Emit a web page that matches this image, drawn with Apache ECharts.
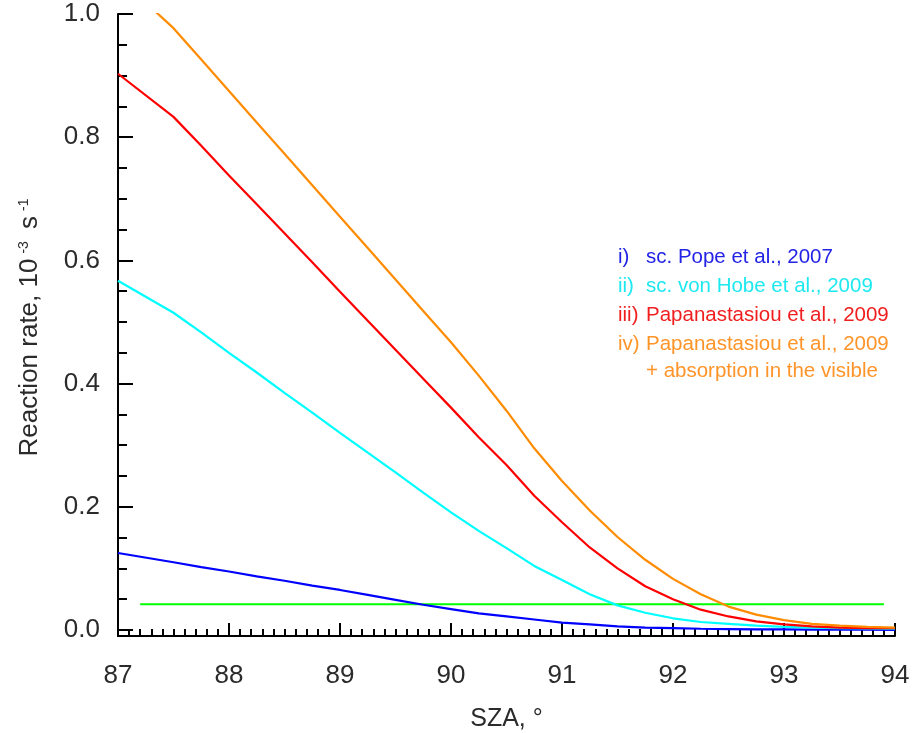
<!DOCTYPE html>
<html>
<head>
<meta charset="utf-8">
<script src="https://cdn.jsdelivr.net/npm/echarts@6/dist/echarts.min.js"></script>
<style>
  html, body { margin: 0; padding: 0; background: #fff; }
  #chart { width: 912px; height: 733px; }
</style>
</head>
<body>
<div id="chart"></div>
<script>
// solar zenith angle, degrees
const sza = [87, 87.5, 87.75, 88, 88.25, 88.5, 88.75, 89, 89.25, 89.5, 89.75, 90,
  90.25, 90.5, 90.75, 91, 91.25, 91.5, 91.75, 92, 92.25, 92.5, 92.75, 93,
  93.25, 93.5, 93.75, 94];

// reaction rates, 10^-3 s^-1
const popeRate = [0.125, 0.110, 0.102, 0.095, 0.087, 0.080, 0.072, 0.065, 0.057, 0.049, 0.041, 0.034,
  0.027, 0.022, 0.017, 0.012, 0.009, 0.006, 0.004, 0.003, 0.002, 0.0015, 0.001, 0.001,
  0.0007, 0.0005, 0.0004, 0.0003];
const vonHobeRate = [0.567, 0.515, 0.483, 0.450, 0.418, 0.385, 0.353, 0.320, 0.288, 0.256, 0.223, 0.191,
  0.161, 0.133, 0.104, 0.081, 0.058, 0.040, 0.028, 0.019, 0.013, 0.010, 0.007, 0.005,
  0.004, 0.003, 0.0025, 0.002];
const papaRate = [0.903, 0.833, 0.786, 0.738, 0.691, 0.644, 0.597, 0.549, 0.502, 0.455, 0.408, 0.361,
  0.313, 0.268, 0.218, 0.175, 0.134, 0.100, 0.071, 0.050, 0.033, 0.022, 0.014, 0.009,
  0.006, 0.004, 0.003, 0.003];
const papaVisRate = [1.06, 0.977, 0.926, 0.875, 0.824, 0.773, 0.722, 0.671, 0.620, 0.569, 0.518, 0.467,
  0.413, 0.356, 0.295, 0.242, 0.194, 0.151, 0.114, 0.083, 0.058, 0.038, 0.025, 0.016,
  0.010, 0.007, 0.005, 0.004];

// horizontal reference level
const refX = [87.2, 93.9];
const refY = [0.042, 0.042];

const seriesNames = ['sc. Pope et al., 2007', 'sc. von Hobe et al., 2009',
  'Papanastasiou et al., 2009', 'Papanastasiou et al., 2009 '];
const seriesTags = ['i)', 'ii)', 'iii)', 'iv)'];
const seriesColors = ['#0000ff', '#00ffff', '#ff0000', '#ff8c00'];
const legendColors = ['#2323e6', '#1ee8f0', '#f01e1e', '#ff9429'];

const xTicks = [87, 88, 89, 90, 91, 92, 93, 94];
const yTicks = [0, 0.2, 0.4, 0.6, 0.8, 1.0];
const yMinorTicks = [0.05, 0.1, 0.15, 0.25, 0.3, 0.35, 0.45, 0.5, 0.55, 0.65, 0.7, 0.75, 0.85, 0.9, 0.95];

const font = '"Liberation Sans", Helvetica, Arial, sans-serif';
const ink = '#000';
const labelColor = '#2b2b2b';

const pairs = (xs, ys) => xs.map((x, i) => [x, ys[i]]);
const rates = [popeRate, vonHobeRate, papaRate, papaVisRate];

const chart = echarts.init(document.getElementById('chart'), null, { renderer: 'canvas' });

const option = {
  backgroundColor: '#fff',
  animation: false,
  textStyle: { fontFamily: font },
  grid: { left: 118, right: 17, top: 14, bottom: 97, containLabel: false, outerBoundsMode: 'none' },
  legend: {
    orient: 'vertical',
    left: 608,
    top: 239,
    itemWidth: 0,
    itemHeight: 0,
    itemGap: 2,
    selectedMode: false,
    data: seriesNames.map((n, i) => ({
      name: n,
      icon: 'none',
      textStyle: { color: legendColors[i] }
    })),
    formatter(name) {
      const i = seriesNames.indexOf(name);
      if (i === 3) {
        return `{n|${seriesTags[i]}}${name.trim()}\n{n| }+ absorption in the visible`;
      }
      return `{n|${seriesTags[i]}}${name}`;
    },
    textStyle: {
      fontFamily: font,
      fontSize: 20.5,
      lineHeight: 27,
      rich: {
        n: { width: 28, fontSize: 20.5, fontFamily: font }
      }
    }
  },
  xAxis: {
    type: 'value',
    min: 87,
    max: 94,
    interval: 1,
    name: 'SZA, °',
    nameLocation: 'middle',
    nameGap: 71,
    nameTextStyle: { fontSize: 25, color: labelColor, fontFamily: font },
    axisLine: { show: true, onZero: false, lineStyle: { color: ink, width: 2 } },
    axisTick: { inside: true, length: 13, lineStyle: { color: ink, width: 2 }, customValues: xTicks },
    minorTick: { show: true, splitNumber: 10, length: 7, lineStyle: { color: ink, width: 2 } },
    axisLabel: { fontSize: 26, color: labelColor, margin: 27, fontFamily: font, customValues: xTicks },
    splitLine: { show: false }
  },
  yAxis: [
    {
      type: 'value',
      min: -0.00974,
      max: 1.0,
      name: 'Reaction rate, 10{sup|-3} s{sup|-1}',
      nameLocation: 'middle',
      nameGap: 75,
      nameTextStyle: {
        fontSize: 26,
        color: labelColor,
        fontFamily: font,
        rich: {
          sup: { fontSize: 14, color: labelColor, fontFamily: font, verticalAlign: 'top', padding: [0, 5, 12, 5] }
        }
      },
      axisLine: { show: true, onZero: false, lineStyle: { color: ink, width: 2 } },
      axisTick: { inside: true, length: 15, lineStyle: { color: ink, width: 2 }, customValues: yTicks },
      axisLabel: {
        fontSize: 26,
        color: labelColor,
        margin: 18,
        fontFamily: font,
        customValues: yTicks,
        formatter: v => v.toFixed(1)
      },
      splitLine: { show: false }
    },
    {
      type: 'value',
      min: -0.00974,
      max: 1.0,
      position: 'left',
      axisLine: { show: false },
      axisTick: { show: true, inside: true, length: 9, lineStyle: { color: ink, width: 2 }, customValues: yMinorTicks },
      axisLabel: { show: false },
      splitLine: { show: false }
    }
  ],
  series: [
    ...rates.map((r, i) => ({
      name: seriesNames[i],
      type: 'line',
      data: pairs(sza, r),
      showSymbol: false,
      symbol: 'none',
      clip: true,
      lineStyle: { color: seriesColors[i], width: 2.2 },
      itemStyle: { color: seriesColors[i] },
      z: 3 + i
    })),
    {
      name: 'reference level',
      type: 'line',
      data: pairs(refX, refY),
      symbol: 'none',
      lineStyle: { color: '#00ff00', width: 2 },
      z: 2
    }
  ]
};

chart.setOption(option);
</script>
</body>
</html>
